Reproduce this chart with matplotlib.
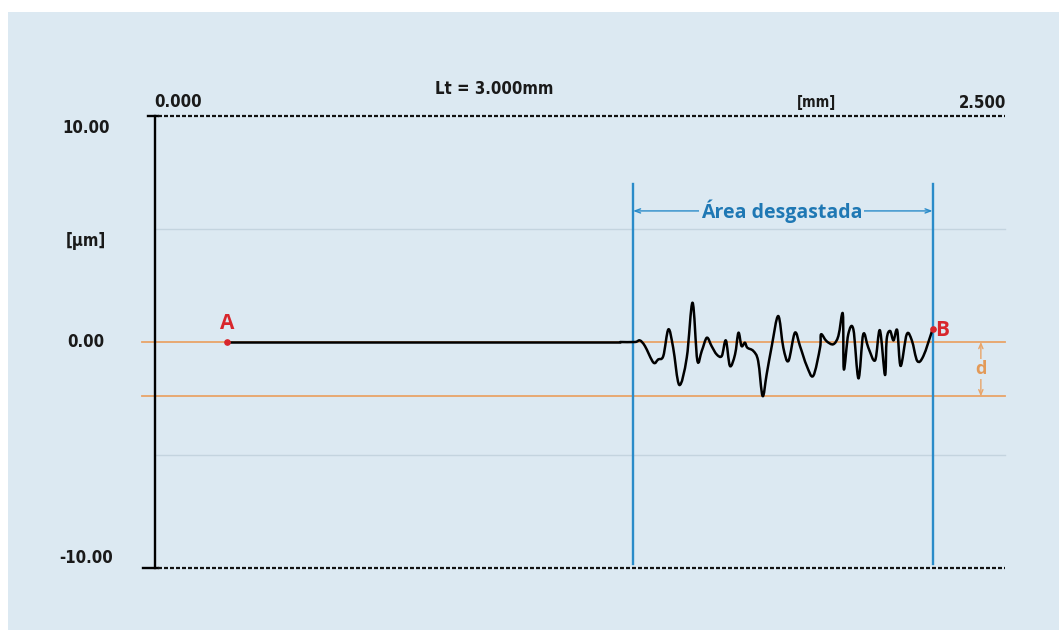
import matplotlib
matplotlib.use("Agg")
import matplotlib.pyplot as plt
from matplotlib.patches import Rectangle, PathPatch
from matplotlib.path import Path

# Profile trace (x in mm, height in µm)
flat_x = [0.212, 1.368]
flat_y = [0.0, 0.0]
wear_x = [1.368, 1.412, 1.426, 1.441, 1.466, 1.480, 1.495, 1.510, 1.524, 1.542, 1.564,
          1.581, 1.595, 1.608, 1.623, 1.637, 1.652, 1.667, 1.679, 1.691, 1.706,
          1.716, 1.725, 1.735, 1.742, 1.760, 1.774, 1.787, 1.799, 1.814, 1.833,
          1.848, 1.863, 1.882, 1.897, 1.917, 1.936, 1.956, 1.959, 1.975, 1.995,
          2.010, 2.023, 2.026, 2.039, 2.054, 2.069, 2.083, 2.098, 2.118, 2.132,
          2.147, 2.152, 2.162, 2.172, 2.183, 2.193, 2.211, 2.226, 2.242, 2.260,
          2.287]
wear_y = [0.0, 0.0, 0.07, -0.18, -0.91, -0.77, -0.62, 0.56, -0.25, -1.90, -0.69,
          1.74, -0.81, -0.40, 0.19, -0.18, -0.55, -0.62, 0.07, -1.06, -0.55,
          0.41, -0.18, -0.03, -0.25, -0.40, -0.84, -2.39, -1.43, -0.18, 1.15,
          -0.25, -0.84, 0.41, -0.18, -1.06, -1.50, -0.25, 0.34, 0.04, -0.10,
          0.27, 1.25, -1.21, 0.34, 0.56, -1.61, 0.34, -0.25, -0.81, 0.52,
          -1.46, 0.12, 0.49, 0.07, 0.52, -1.06, 0.34, 0.07, -0.84, -0.62,
          0.56]

x_min, x_max = 0.0, 2.5
y_min, y_max = -10.0, 10.0
y_grid = [5.0, -5.0]
y_ticks = [9.47, 0.0, -9.56]
y_tick_labels = ["10.00", "0.00", "-10.00"]
wear_start, wear_end = 1.406, 2.287
depth = -2.4
point_a = (0.212, 0.0)
point_b = (2.287, 0.56)

bg = "#dce9f2"
orange = "#e9a468"
blue = "#2a8bc9"
blue_text = "#1f78b4"
red = "#d8262c"


def smooth_path(xs, ys):
    # Catmull-Rom through the points, written as cubic Bezier segments
    pts = list(zip(xs, ys))
    verts = [pts[0]]
    codes = [Path.MOVETO]
    n = len(pts)
    for i in range(n - 1):
        p0 = pts[max(i - 1, 0)]
        p1 = pts[i]
        p2 = pts[i + 1]
        p3 = pts[min(i + 2, n - 1)]
        c1 = (p1[0] + (p2[0] - p0[0]) / 6, p1[1] + (p2[1] - p0[1]) / 6)
        c2 = (p2[0] - (p3[0] - p1[0]) / 6, p2[1] - (p3[1] - p1[1]) / 6)
        verts += [c1, c2, p2]
        codes += [Path.CURVE4] * 3
    return Path(verts, codes)


fig = plt.figure(figsize=(10.59, 6.30), dpi=100)
fig.patch.set_facecolor("white")

ax = fig.add_axes([0, 0, 1, 1])
ax.set_facecolor("none")
ax.add_patch(Rectangle((8 / 1059, 0), 1 - 8 / 1059, 1 - 12 / 630,
                       transform=ax.transAxes, facecolor=bg,
                       edgecolor="none", zorder=0))
# 340 px per mm, 22.6 px per µm; origin of the profile at pixel (155, 341)
ax.set_xlim(-155 / 340, (1059 - 155) / 340)
ax.set_ylim(-10 - 62 / 22.6, 10 + 116 / 22.6)
ax.axis("off")

# grid lines
for g in y_grid:
    ax.plot([x_min, x_max], [g, g], color="#c4d4df", lw=1.0, zorder=1)

# reference lines and depth marker
ax.plot([-0.038, x_max], [0, 0], color=orange, lw=1.3, zorder=2)
ax.plot([-0.038, x_max], [depth, depth], color=orange, lw=1.3, zorder=2)
ax.annotate("", xy=(2.429, 0), xytext=(2.429, depth),
            arrowprops=dict(arrowstyle="<->,head_length=0.35,head_width=0.15",
                            color=orange, lw=1.0, shrinkA=0, shrinkB=0), zorder=3)
ax.text(2.429, depth / 2, "d", color="#e39a58", fontsize=13, ha="center", va="center",
        family="Open Sans", fontweight="bold",
        bbox=dict(facecolor=bg, edgecolor="none", pad=0.5), zorder=4)

# frame: vertical axis and dashed limits
ax.plot([x_min, x_min], [y_min, y_max], color="black", lw=1.7, zorder=3)
ax.plot([-0.02, 0.01], [y_max, y_max], color="black", lw=1.7, zorder=3)
ax.plot([-0.035, 0.01], [y_min, y_min], color="black", lw=1.7, zorder=3)
for yv in (y_max, y_min):
    ax.plot([0.01, x_max], [yv, yv], color="#111111", lw=1.6,
            linestyle=(0, (1.8, 0.9)), zorder=3)

# worn area
for xv in (wear_start, wear_end):
    ax.plot([xv, xv], [-9.82, 7.0], color=blue, lw=1.7, zorder=3)
ax.annotate("", xy=(wear_start, 5.8), xytext=(wear_end, 5.8),
            arrowprops=dict(arrowstyle="<->,head_length=0.4,head_width=0.15",
                            color=blue, lw=1.0, shrinkA=0, shrinkB=0), zorder=3)
ax.text((wear_start + wear_end) / 2 - 0.004, 5.8, "Área desgastada", color=blue_text,
        fontsize=14, fontweight="bold", family="Open Sans", ha="center", va="center",
        bbox=dict(facecolor=bg, edgecolor="none", pad=1.5), zorder=4)

# profile
ax.plot(flat_x, flat_y, color="black", lw=1.8, solid_capstyle="round", zorder=5)
ax.add_patch(PathPatch(smooth_path(wear_x, wear_y),
                       facecolor="none", edgecolor="black", lw=1.8,
                       joinstyle="round", capstyle="round", zorder=5))
ax.plot(*point_a, "o", color=red, ms=3.8, zorder=6)
ax.plot(*point_b, "o", color=red, ms=3.8, zorder=6)
ax.text(point_a[0], 0.35, "A", color=red, fontsize=15, fontweight="bold",
        family="Open Sans", ha="center", va="bottom", zorder=6)
ax.text(point_b[0] + 0.008, point_b[1] - 0.05, "B", color=red, fontsize=15,
        fontweight="bold", family="Open Sans", ha="left", va="center", zorder=6)

# axis texts
lab = dict(family="DejaVu Sans", fontstretch="condensed", fontweight="bold",
           fontsize=12, color="#1a1a1a")
for yv, s in zip(y_ticks, y_tick_labels):
    ax.text(-0.203, yv, s, ha="center", va="center", **lab)
ax.text(-0.203, 4.47, "[µm]", ha="center", va="center", **lab)
ax.text(0.068, 10.62, "0.000", ha="center", va="center", **lab)
ax.text(2.435, 10.58, "2.500", ha="center", va="center", **lab)
ax.text(1.947, 10.58, "[mm]", ha="center", va="center",
        family="DejaVu Sans", fontstretch="condensed", fontweight="bold",
        fontsize=10.5, color="#1a1a1a")
ax.text(0.999, 11.2, "Lt = 3.000mm", ha="center", va="center", **lab)

fig.savefig("out.png", dpi=100, facecolor=fig.get_facecolor())
